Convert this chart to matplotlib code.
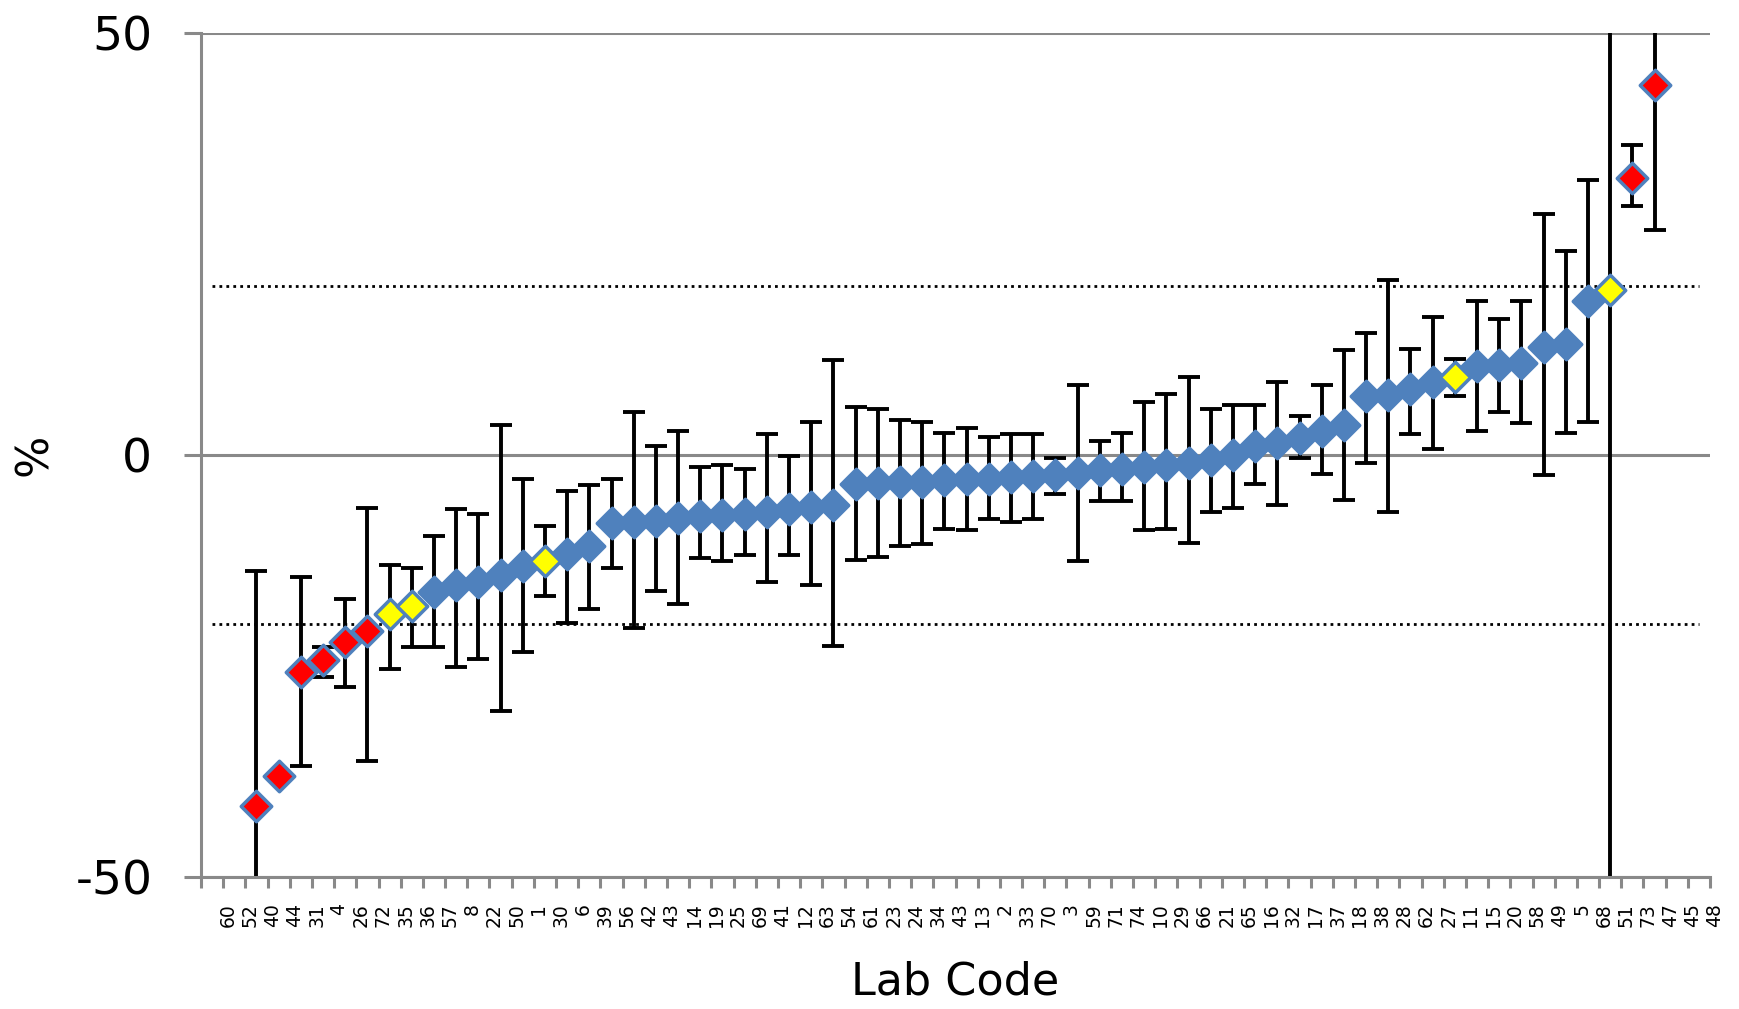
import numpy as np
import matplotlib
matplotlib.use('Agg')
import matplotlib.pyplot as plt
from matplotlib.transforms import ScaledTranslation

plt.rcParams['axes.unicode_minus'] = False

nan = np.nan

labs = ['60', '52', '40', '44', '31', '4', '26', '72', '35', '36',
        '57', '8', '22', '50', '1', '30', '6', '39', '56', '42',
        '43', '14', '19', '25', '69', '41', '12', '63', '54', '61',
        '23', '24', '34', '43', '13', '2', '33', '70', '3', '59',
        '71', '74', '10', '29', '66', '21', '65', '16', '32', '17',
        '37', '18', '38', '28', '62', '27', '11', '15', '20', '58',
        '49', '5', '68', '51', '73', '47', '45', '48']

# deviation from assigned value (%)
dev = [nan, nan, -41.6, -38.0, -25.7, -24.3, -22.1, -20.9, -18.8, -17.9,
       -16.2, -15.4, -15.1, -14.2, -13.2, -12.5, -11.7, -10.8, -8.0, -7.9,
       -7.8, -7.5, -7.2, -7.1, -7.0, -6.7, -6.4, -6.2, -5.9, -3.4,
       -3.3, -3.2, -3.2, -3.0, -2.9, -2.8, -2.6, -2.5, -2.4, -2.1,
       -1.8, -1.7, -1.4, -1.2, -0.9, -0.6, 0.0, 1.1, 1.4, 2.0,
       2.8, 3.6, 7.0, 7.1, 7.8, 8.6, 9.3, 10.5, 10.7, 10.9,
       12.8, 13.2, 18.2, 19.6, 32.8, 43.8, nan, nan]

# lower / upper end of the reported uncertainty
unc_lo = [nan, nan, -70, nan, -36.8, -26.3, -27.5, -36.2, -25.4, -22.8,
          -22.8, -25.1, -24.2, -30.3, -23.3, -16.7, -19.9, -18.2, -13.4, -20.5,
          -16.1, -17.6, -12.2, -12.5, -11.8, -15.0, -11.8, -15.4, -22.6, -12.4,
          -12.1, -10.8, -10.5, -8.8, -8.9, -7.6, -7.9, -7.6, -4.6, -12.5,
          -5.4, -5.4, -8.9, -8.8, -10.4, -6.7, -6.3, -3.4, -5.9, -0.3,
          -2.2, -5.3, -0.9, -6.8, 2.5, 0.7, 7.0, 2.9, 5.1, 3.8,
          -2.4, 2.6, 3.9, -60, 29.5, 26.6, nan, nan]
unc_hi = [nan, nan, -13.8, nan, -14.5, -22.8, -17.1, -6.3, -13.0, -13.4,
          -9.6, -6.4, -7.0, 3.6, -2.9, -8.4, -4.3, -3.6, -2.9, 5.1,
          1.1, 2.9, -1.4, -1.2, -1.7, 2.5, -0.1, 3.9, 11.3, 5.7,
          5.5, 4.2, 3.9, 2.6, 3.2, 2.1, 2.5, 2.5, -0.3, 8.3,
          1.7, 2.6, 6.3, 7.2, 9.2, 5.5, 5.9, 5.9, 8.6, 4.6,
          8.3, 12.4, 14.5, 20.7, 12.6, 16.3, 11.4, 18.3, 16.1, 18.3,
          28.6, 24.2, 32.6, 100, 36.7, 62, nan, nan]

# z-score class of each result: ok, warning (yellow), action (red)
zclass = ['', '', 'act', 'act', 'act', 'act', 'act', 'act', 'warn', 'warn',
          'ok', 'ok', 'ok', 'ok', 'ok', 'warn', 'ok', 'ok', 'ok', 'ok',
          'ok', 'ok', 'ok', 'ok', 'ok', 'ok', 'ok', 'ok', 'ok', 'ok',
          'ok', 'ok', 'ok', 'ok', 'ok', 'ok', 'ok', 'ok', 'ok', 'ok',
          'ok', 'ok', 'ok', 'ok', 'ok', 'ok', 'ok', 'ok', 'ok', 'ok',
          'ok', 'ok', 'ok', 'ok', 'ok', 'ok', 'warn', 'ok', 'ok', 'ok',
          'ok', 'ok', 'ok', 'warn', 'act', 'act', '', '']

limit = 20

x = np.arange(len(labs))
dev = np.array(dev)
yerr = [dev - np.array(unc_lo), np.array(unc_hi) - dev]
zclass = np.array(zclass)

blue = '#4f81bd'
gray = '#898989'

fig = plt.figure(figsize=(17.4, 10.09), dpi=100)
ax = fig.add_axes([0.1155, 0.1308, 0.8673, 0.8365])

ax.plot([x[0], x[-1]], [limit, limit], color='black', lw=2, ls=(0, (1, 1.5)), zorder=1)
ax.plot([x[0], x[-1]], [-limit, -limit], color='black', lw=2, ls=(0, (1, 1.5)), zorder=1)

ax.errorbar(x, dev, yerr=yerr, fmt='none', ecolor='black', elinewidth=2.8,
            capsize=8, capthick=2.8, zorder=2)

fills = {'ok': blue, 'warn': '#ffff00', 'act': '#ff0000'}
for c in ['ok', 'warn', 'act']:
    m = zclass == c
    ax.scatter(x[m], dev[m], marker='D', s=15.5 ** 2, facecolor=fills[c],
               edgecolor=blue, linewidth=2.5, zorder=3)

ax.set_xlim(-0.5, len(labs) - 0.5)
ax.set_ylim(-50, 50)
ax.set_yticks([-50, 0, 50])
ax.yaxis.grid(True, color=gray, lw=2.2)
ax.set_axisbelow(True)

for s in ['top', 'right']:
    ax.spines[s].set_visible(False)
for s in ['left', 'bottom']:
    ax.spines[s].set_color(gray)
    ax.spines[s].set_linewidth(2.2)

ax.tick_params(axis='y', length=12, width=2.2, color=gray, pad=23, labelsize=34)

ax.set_xticks(x)
ax.set_xticklabels(labs, rotation=90, fontsize=13.5)
ax.set_xticks(np.arange(len(labs) + 1) - 0.5, minor=True)
ax.tick_params(axis='x', which='major', length=0, pad=19)
ax.tick_params(axis='x', which='minor', length=8, width=2.2, color=gray)
shift = ScaledTranslation(16 / 100, 0, fig.dpi_scale_trans)
for t in ax.get_xticklabels():
    t.set_transform(t.get_transform() + shift)

ax.set_xlabel('Lab Code', fontsize=32, va='center')
ax.xaxis.set_label_coords(0.5, -0.124)
ax.set_ylabel('%', fontsize=32, va='center')
ax.yaxis.set_label_coords(-0.11, 0.5)

fig.savefig('out.png', dpi=100)
